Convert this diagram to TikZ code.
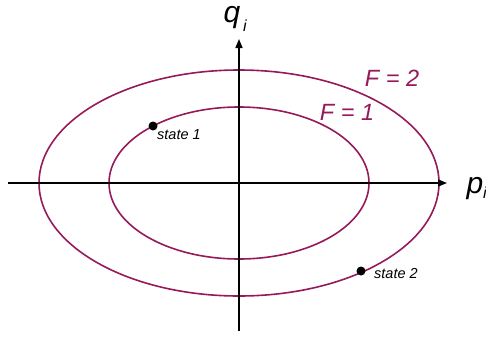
\documentclass[tikz,border=0pt]{standalone}
\usepackage{fontspec}
\setmainfont{Liberation Sans}
\usetikzlibrary{arrows.meta}
\definecolor{fcol}{RGB}{150,25,90}
\begin{document}
\begin{tikzpicture}[x=1pt,y=-1pt,
  axis/.style={line width=1.6pt,-{Triangle[length=9pt,width=7pt]}},
  curve/.style={draw=fcol,line width=1.6pt},
  flabel/.style={text=fcol,font=\itshape\fontsize{23.5}{23.5}\selectfont,inner sep=0pt},
  slabel/.style={font=\itshape\fontsize{14.5}{14.5}\selectfont,inner sep=0pt,anchor=west},
  dot/.style={circle,fill=black,inner sep=0pt,minimum size=9pt}]
\useasboundingbox (0,0) rectangle (486,340);
\coordinate (O) at (239,183);
\coordinate (xl) at (8,183);
\coordinate (xr) at (447,183);
\coordinate (yb) at (239,331);
\coordinate (yt) at (239,39);
\draw[curve] (O) ellipse [x radius=200, y radius=113];
\draw[curve] (O) ellipse [x radius=130, y radius=76];
\draw[axis] (xl) -- (xr);
\draw[axis] (yb) -- (yt);
\node[inner sep=0pt,anchor=base,font=\itshape\fontsize{30}{30}\selectfont] (q) at (232,22) {q};
\node[inner sep=0pt,font=\itshape\fontsize{16}{16}\selectfont] (qi) at (245,26) {i};
\node[inner sep=0pt,anchor=base,font=\itshape\fontsize{30}{30}\selectfont] (p) at (475,193) {p};
\node[inner sep=0pt,font=\itshape\fontsize{16}{16}\selectfont] (pi) at (485,193) {i};
\node[flabel] (F2) at (392,78) {F = 2};
\node[flabel] (F1) at (347,112) {F = 1};
\node[dot] (s1) at (153,126) {};
\node[slabel] (t1) at (157,135) {state 1};
\node[dot] (s2) at (361,271) {};
\node[slabel] (t2) at (374,274) {state 2};
\end{tikzpicture}
\end{document}
